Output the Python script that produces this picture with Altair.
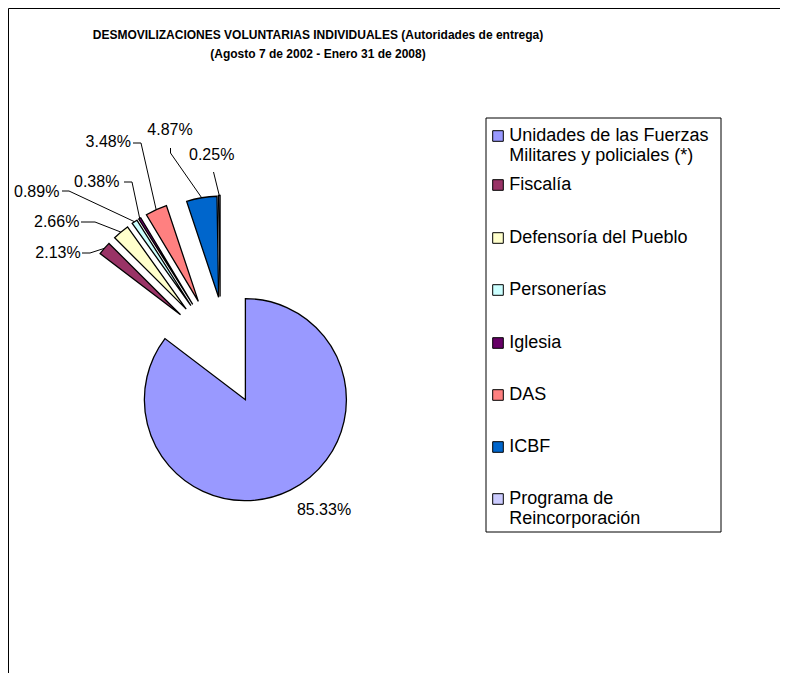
import altair as alt
import pandas as pd

# ---------------- data ----------------
categories = [
    "Unidades de las Fuerzas Militares y policiales (*)",
    "Fiscalía",
    "Defensoría del Pueblo",
    "Personerías",
    "Iglesia",
    "DAS",
    "ICBF",
    "Programa de Reincorporación",
]
legend_lines = [
    ["Unidades de las Fuerzas", "Militares y policiales (*)"],
    ["Fiscalía"],
    ["Defensoría del Pueblo"],
    ["Personerías"],
    ["Iglesia"],
    ["DAS"],
    ["ICBF"],
    ["Programa de", "Reincorporación"],
]
values = [85.33, 2.13, 2.66, 0.89, 0.38, 3.48, 4.87, 0.25]
pct_labels = ["85.33%", "2.13%", "2.66%", "0.89%", "0.38%", "3.48%", "4.87%", "0.25%"]
title_lines = [
    "DESMOVILIZACIONES VOLUNTARIAS INDIVIDUALES (Autoridades de entrega)",
    "(Agosto 7 de 2002 - Enero 31 de 2008)",
]

# ---------------- style / layout ----------------
colors = ["#9999FF", "#993366", "#FFFFCC", "#CCFFFF", "#660066", "#FF8080", "#0066CC", "#CCCCFF"]
FONT = "Liberation Sans"
W, H = 772, 665
CX, CY, R = 212.5, 341.5, 101
explode = [56, 53, 53, 53, 53, 53, 53, 53]
shift_x = [0, 0, 0, 0, 0, 0, 7, 0]
label_x = [316, 50, 48.7, 28.7, 88.7, 100.3, 162, 203.7]
label_y = [502, 245, 213.7, 183.7, 173.7, 133.7, 122, 147]
has_leader = [False, True, True, True, True, True, True, True]
lead_x1 = [0, 74, 73, 54, 116, 125, 162.5, 205.5]
lead_y1 = [0, 245, 214, 183, 174, 135, 140, 164]
lead_x2 = [0, 82, 87, 61, 124, 133, 162.5, 206.5]
lead_y2 = [0, 245, 214, 183, 174, 135, 145, 168]

legend_box = (478, 110, 713, 524)
legend_entry_y = [128, 177, 230, 282, 335, 387, 439, 491]
legend_line_h = 20
legend_mark_x = (484.7, 495.3)
legend_text_x = 501.3
legend_mark_size = 10.6
LEGEND_FS = 18
LABEL_FS = 16
title_x = 310
title_y = [27, 46]

pie = pd.DataFrame({
    "order": list(range(len(categories))),
    "cat": categories,
    "value": values,
    "label": pct_labels,
    "explode": explode,
    "shift": shift_x,
    "lx": label_x,
    "ly": label_y,
    "lead": has_leader,
    "ax1": lead_x1,
    "ay1": lead_y1,
    "ax2": lead_x2,
    "ay2": lead_y2,
})

base = (
    alt.Chart(pie)
    .transform_joinaggregate(total="sum(value)")
    .transform_window(cum="sum(value)", sort=[alt.SortField("order")], frame=[None, 0])
    .transform_calculate(a0="2*PI*(datum.cum - datum.value)/datum.total")
    .transform_calculate(a1="2*PI*datum.cum/datum.total")
    .transform_calculate(mid="(datum.a0 + datum.a1)/2")
    .transform_calculate(cx=f"{CX} + datum.explode*sin(datum.mid) + datum.shift")
    .transform_calculate(cy=f"{CY} - datum.explode*cos(datum.mid)")
    .transform_calculate(ox=f"datum.cx + {R}*sin(datum.mid)")
    .transform_calculate(oy=f"datum.cy - {R}*cos(datum.mid)")
)

color_scale = alt.Scale(domain=categories, range=colors)

arcs = base.mark_arc(radius=R, stroke="black", strokeWidth=1.3).encode(
    x=alt.X("cx:Q", scale=None, axis=None),
    y=alt.Y("cy:Q", scale=None, axis=None),
    theta=alt.Theta("a0:Q", scale=None),
    theta2=alt.Theta2("a1:Q"),
    color=alt.Color("cat:N", scale=color_scale, legend=None),
    order=alt.Order("order:Q"),
)

labels = base.mark_text(font=FONT, fontSize=LABEL_FS, color="black").encode(
    x=alt.X("lx:Q", scale=None, axis=None),
    y=alt.Y("ly:Q", scale=None, axis=None),
    text="label:N",
)

lead_a = base.transform_filter("datum.lead").mark_rule(color="black", strokeWidth=1).encode(
    x=alt.X("ax1:Q", scale=None, axis=None),
    y=alt.Y("ay1:Q", scale=None, axis=None),
    x2="ax2:Q",
    y2="ay2:Q",
)
lead_b = base.transform_filter("datum.lead").mark_rule(color="black", strokeWidth=1).encode(
    x=alt.X("ax2:Q", scale=None, axis=None),
    y=alt.Y("ay2:Q", scale=None, axis=None),
    x2="ox:Q",
    y2="oy:Q",
)

# legend
leg_rows = []
for i, (cat, lines) in enumerate(zip(categories, legend_lines)):
    for j, t in enumerate(lines):
        leg_rows.append({"cat": cat, "text": t, "line": j,
                         "ty": legend_entry_y[i] + j * legend_line_h})
leg = pd.DataFrame(leg_rows)

leg_box = alt.Chart(pd.DataFrame({"k": [0]})).mark_rect(fill="white", stroke="black", strokeWidth=1).encode(
    x=alt.value(legend_box[0]), x2=alt.value(legend_box[2]),
    y=alt.value(legend_box[1]), y2=alt.value(legend_box[3]),
)
leg_marks = alt.Chart(leg).transform_filter("datum.line == 0").transform_calculate(
    my1=f"datum.ty - {legend_mark_size/2}", my2=f"datum.ty + {legend_mark_size/2}"
).mark_rect(stroke="black", strokeWidth=1).encode(
    x=alt.value(legend_mark_x[0]), x2=alt.value(legend_mark_x[1]),
    y=alt.Y("my1:Q", scale=None, axis=None), y2="my2:Q",
    color=alt.Color("cat:N", scale=color_scale, legend=None),
)
leg_text = alt.Chart(leg).mark_text(font=FONT, fontSize=LEGEND_FS, align="left", baseline="middle", color="black").encode(
    x=alt.value(legend_text_x),
    y=alt.Y("ty:Q", scale=None, axis=None),
    text="text:N",
)

title_df = pd.DataFrame({"t": title_lines, "ty": title_y})
title = alt.Chart(title_df).mark_text(font=FONT, fontSize=12, fontWeight="bold", align="center", baseline="middle", color="black").encode(
    x=alt.value(title_x),
    y=alt.Y("ty:Q", scale=None, axis=None),
    text="t:N",
)

chart = alt.layer(arcs, lead_a, lead_b, labels, leg_box, leg_marks, leg_text, title).properties(
    width=W, height=H, padding=0,
    autosize=alt.AutoSizeParams(type="fit", contains="padding"),
).configure_view(stroke="black", strokeWidth=1)

chart.save("out.html", embed_options={"renderer": "svg", "actions": False})
